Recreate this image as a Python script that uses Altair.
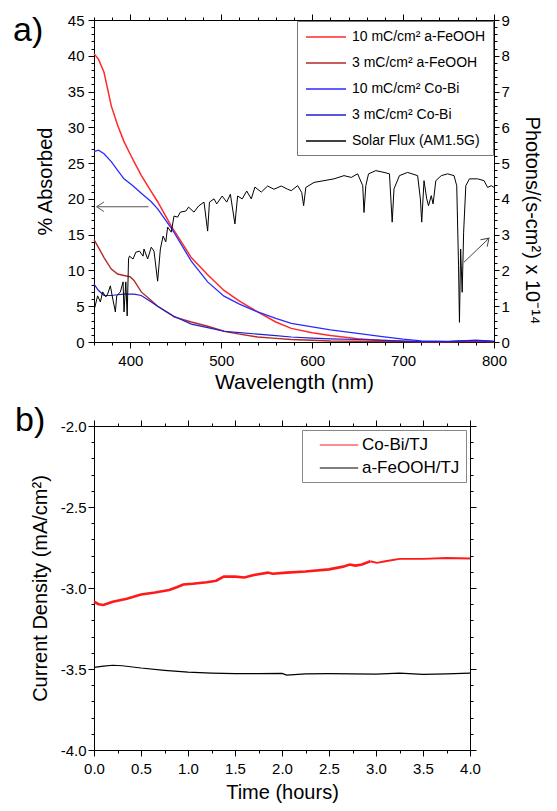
import altair as alt
import pandas as pd

# ---------------- panel a) data ----------------
wavelength = [360, 365, 371, 379, 386, 393, 400, 404, 412, 423, 430, 445, 448, 467, 485, 503, 520, 540,
              560, 577, 600, 620, 650, 675, 700, 720, 750, 780, 800]
feooh_10 = [40.3, 39.5, 37.7, 33.0, 30.3, 28.0, 26.2, 25.2, 23.3, 21.0, 19.6, 16.2, 15.6, 11.8, 9.4, 7.2, 5.7, 4.2,
            2.8, 1.9, 1.3, 0.9, 0.45, 0.2, 0.1, 0.05, 0.05, 0.1, 0.05]
feooh_3 = [14.3, 13.2, 11.8, 10.2, 9.5, 9.3, 9.1, 8.6, 7.0, 5.8, 5.0, 3.8, 3.5, 2.8, 2.2, 1.5, 1.1, 0.7,
           0.5, 0.35, 0.25, 0.15, 0.1, 0.08, 0.05, 0.05, 0.05, 0.15, 0.05]
cobi_10 = [26.6, 26.8, 26.3, 25.2, 24.0, 22.8, 22.1, 21.7, 20.8, 19.6, 18.6, 15.9, 15.3, 11.3, 8.4, 6.4, 5.3, 4.2,
           3.3, 2.6, 2.1, 1.7, 1.2, 0.8, 0.4, 0.15, 0.1, 0.2, 0.1]
cobi_3 = [8.1, 7.2, 6.5, 6.5, 6.6, 6.7, 6.7, 6.7, 6.5, 5.6, 5.0, 3.8, 3.6, 2.5, 2.0, 1.5, 1.3, 1.1,
          0.9, 0.7, 0.55, 0.45, 0.35, 0.25, 0.12, 0.05, 0.05, 0.25, 0.1]

solar_wl = [360.4, 364, 367, 369.5, 373, 375, 378, 380, 383.5, 385, 389, 392, 393, 395, 396.5, 398, 399,
            403, 406, 410, 414, 415, 419, 423, 426, 430, 433, 436, 439, 441, 445, 448, 452, 455, 461, 464,
            470, 475, 481, 485, 487, 492, 495, 501, 506, 510, 515, 518, 523, 528, 533, 537, 544, 551, 558,
            566, 573, 577, 584, 588.5, 590.6, 593, 602, 613, 624, 635, 643, 650, 655.6, 657, 659, 662, 670,
            679, 685, 688, 690, 696, 705, 716, 719, 720.5, 723, 726, 728, 731, 733, 736, 742, 749, 756, 759,
            761, 762, 763.3, 765, 766.6, 769, 773, 782, 789, 793, 797, 800]
solar_flux = [0.92, 1.29, 1.12, 1.40, 1.26, 1.34, 1.57, 1.29, 0.84, 1.29, 1.40, 1.68, 0.84, 1.68, 0.73, 2.32, 2.40,
              2.32, 2.51, 2.54, 2.40, 2.60, 2.32, 2.65, 2.54, 1.70, 2.60, 2.96, 2.80, 3.21, 3.07, 3.52, 3.49, 3.63,
              3.66, 3.77, 3.63, 3.80, 3.91, 3.10, 3.91, 4.00, 3.86, 4.08, 3.91, 4.13, 3.30, 4.08, 4.00, 4.22, 4.00,
              4.33, 4.19, 4.36, 4.27, 4.36, 4.27, 4.23, 4.37, 4.18, 3.81, 4.32, 4.46, 4.51, 4.56, 4.65, 4.60, 4.70,
              4.37, 3.62, 4.37, 4.70, 4.79, 4.74, 4.70, 3.35, 4.28, 4.65, 4.74, 4.65, 4.00, 3.35, 4.51, 4.00, 3.81,
              4.09, 3.86, 4.51, 4.65, 4.70, 4.65, 4.37, 2.13, 0.55, 2.60, 1.39, 3.07, 4.37, 4.56, 4.56, 4.51, 4.32,
              4.37, 4.32]

abs_series = ["10 mC/cm² a-FeOOH", "3 mC/cm² a-FeOOH", "10 mC/cm² Co-Bi", "3 mC/cm² Co-Bi"]
solar_series = "Solar Flux (AM1.5G)"
all_series = abs_series + [solar_series]
series_colors = ["#ff2a2a", "#b22a2a", "#2a2aff", "#1f1fd0", "#000000"]
series_widths = [1.5, 1.2, 1.5, 1.2]

# annotation arrows (data coordinates)
left_arrow_x = [420, 363]
left_arrow_y = [18.9, 18.9]
right_arrow_x = [767, 794.5]
right_arrow_y = [2.23, 2.9]

# ---------------- panel b) data ----------------
t_cobi = [0.0, 0.05, 0.1, 0.2, 0.35, 0.5, 0.65, 0.8, 0.88, 0.95, 1.05, 1.2, 1.3, 1.38, 1.5, 1.6, 1.7, 1.85, 1.9,
          2.05, 2.25, 2.5, 2.65, 2.72, 2.78, 2.85, 2.94, 3.01, 3.1, 3.25, 3.5, 3.75, 4.0]
j_cobi = [-3.085, -3.10, -3.105, -3.085, -3.066, -3.04, -3.028, -3.012, -2.995, -2.978, -2.974, -2.965, -2.955,
          -2.93, -2.93, -2.935, -2.92, -2.905, -2.912, -2.905, -2.898, -2.885, -2.868, -2.855, -2.862, -2.855,
          -2.835, -2.845, -2.835, -2.82, -2.82, -2.815, -2.818]
t_feooh = [0.0, 0.1, 0.2, 0.3, 0.5, 0.75, 1.0, 1.25, 1.5, 1.75, 2.0, 2.05, 2.25, 2.5, 2.75, 3.0, 3.25, 3.5, 3.75, 4.0]
j_feooh = [-3.49, -3.482, -3.477, -3.48, -3.494, -3.508, -3.519, -3.525, -3.528, -3.528, -3.527, -3.538, -3.53,
           -3.529, -3.53, -3.532, -3.525, -3.533, -3.53, -3.525]
b_series = ["Co-Bi/TJ", "a-FeOOH/TJ"]
b_colors = ["#ff1a1a", "#000000"]

# tick value lists
wl_ticks = list(range(360, 801, 20))
abs_ticks = list(range(0, 46))
flux_ticks = [round(0.2 * i, 1) for i in range(46)]
time_ticks = [0.25 * i for i in range(17)]
j_ticks = [round(-4 + 0.1 * i, 1) for i in range(21)]

FONT = "Liberation Sans"

# ---------------- build tables ----------------
rows = []
for name, vals in zip(abs_series, [feooh_10, feooh_3, cobi_10, cobi_3]):
    for w, v in zip(wavelength, vals):
        rows.append({"wl": w, "val": v, "series": name})
abs_df = pd.DataFrame(rows)
solar_df = pd.DataFrame({"wl": solar_wl, "flux": solar_flux, "series": solar_series})
larrow_df = pd.DataFrame({"x1": [left_arrow_x[0]], "x2": [left_arrow_x[1]], "y1": [left_arrow_y[0]], "y2": [left_arrow_y[1]]})
rarrow_df = pd.DataFrame({"x1": [right_arrow_x[0]], "x2": [right_arrow_x[1]], "y1": [right_arrow_y[0]], "y2": [right_arrow_y[1]]})

brows = []
for t, v in zip(t_cobi, j_cobi):
    if t <= 2.94:
        brows.append({"t": t, "j": v, "series": b_series[0], "seg": "cobi_noisy"})
    if t >= 2.94:
        brows.append({"t": t, "j": v, "series": b_series[0], "seg": "cobi_smooth"})
for t, v in zip(t_feooh, j_feooh):
    brows.append({"t": t, "j": v, "series": b_series[1], "seg": "feooh"})
b_df = pd.DataFrame(brows)


def tsize(test, major, minor):
    return {"condition": {"test": test, "value": major}, "value": minor}


# ---------------- panel a) ----------------
xs = alt.Scale(domain=[360, 800], nice=False, zero=False)
yl = alt.Scale(domain=[0, 45], nice=False, zero=False)
yr = alt.Scale(domain=[0, 9], nice=False, zero=False)

is100 = "datum.value % 100 === 0"
x_bottom = alt.Axis(values=wl_ticks, orient="bottom", title="Wavelength (nm)", grid=False,
                    labelExpr=f"{is100} ? format(datum.value, '.0f') : ''",
                    tickSize=tsize(is100, 6, 3), labelFlush=False, labelOverlap=False,
                    labelPadding=5, titlePadding=3, titleFontSize=21)
x_top = alt.Axis(values=wl_ticks, orient="top", title=None, labels=False, grid=False,
                 tickSize=tsize(is100, 6, 3))
is5 = "datum.value % 5 === 0"
y_left = alt.Axis(values=abs_ticks, orient="left", title="% Absorbed", grid=False,
                  labelExpr=f"{is5} ? format(datum.value, '.0f') : ''",
                  tickSize=tsize(is5, 6, 3), labelOverlap=False, labelFlush=False,
                  labelPadding=4, titlePadding=12)
isint = "abs(datum.value - round(datum.value)) < 0.001"
y_right = alt.Axis(values=flux_ticks, orient="right", title="Photons/(s-cm²) x 10⁻¹⁴", grid=False,
                   labelExpr=f"{isint} ? format(datum.value, '.0f') : ''",
                   tickSize=tsize(isint, 5, 3), labelOverlap=False, labelFlush=False,
                   labelPadding=2, titlePadding=12, titleFontSize=20, titleY=200)

legend_a = alt.Legend(title=None, orient="top-right", offset=1, strokeColor="#777777", fillColor="white",
                      padding=7, labelFontSize=14, labelFont=FONT, symbolType="M -2.5 0 L 2.5 0",
                      symbolSize=256, symbolStrokeWidth=1.5, symbolOffset=13, rowPadding=10,
                      labelOffset=17, labelLimit=400)
color_a = alt.Color("series:N", scale=alt.Scale(domain=all_series, range=series_colors), legend=legend_a)

abs_lines = alt.Chart(abs_df).mark_line().encode(
    x=alt.X("wl:Q", scale=xs, axis=x_bottom),
    y=alt.Y("val:Q", scale=yl, axis=y_left),
    color=color_a,
    strokeWidth=alt.StrokeWidth("series:N", scale=alt.Scale(domain=abs_series, range=series_widths), legend=None),
)
chevron = "M -0.9 -0.6 L 0 0 L -0.9 0.6"
larrow_shaft = alt.Chart(larrow_df).mark_rule(color="#555555", strokeWidth=1).encode(
    x=alt.X("x1:Q", scale=xs, axis=None), x2="x2:Q",
    y=alt.Y("y1:Q", scale=yl, axis=None), y2="y2:Q",
)
larrow_head = alt.Chart(larrow_df).mark_point(
    shape=chevron, filled=False, color="#555555", strokeWidth=1, size=256, angle=180, opacity=1,
).encode(x=alt.X("x2:Q", scale=xs, axis=None), y=alt.Y("y2:Q", scale=yl, axis=None))
label_a = alt.Chart(pd.DataFrame({"lab": ["a)"]})).mark_text(
    align="left", baseline="alphabetic", fontSize=34, font=FONT, color="black"
).encode(text="lab:N", x=alt.value(-81), y=alt.value(21))

solar_line = alt.Chart(solar_df).mark_line(strokeWidth=1).encode(
    x=alt.X("wl:Q", scale=xs, axis=x_top),
    y=alt.Y("flux:Q", scale=yr, axis=y_right),
    color=color_a,
)
rarrow_shaft = alt.Chart(rarrow_df).mark_rule(color="#444444", strokeWidth=1).encode(
    x=alt.X("x1:Q", scale=xs, axis=None), x2="x2:Q",
    y=alt.Y("y1:Q", scale=yr, axis=None), y2="y2:Q",
)
rarrow_head = alt.Chart(rarrow_df).mark_point(
    shape=chevron, filled=False, color="#444444", strokeWidth=1, size=256, angle=316, opacity=1,
).encode(x=alt.X("x2:Q", scale=xs, axis=None), y=alt.Y("y2:Q", scale=yr, axis=None))

top = alt.layer(
    abs_lines, larrow_shaft, larrow_head, label_a, solar_line, rarrow_shaft, rarrow_head
).resolve_scale(y="independent").resolve_axis(x="independent", y="independent").properties(
    width=400, height=322)

# ---------------- panel b) ----------------
ts = alt.Scale(domain=[0, 4], nice=False, zero=False)
js = alt.Scale(domain=[-4, -2], nice=False, zero=False)
ishalf = "abs(datum.value * 2 - round(datum.value * 2)) < 0.001"
t_bottom = alt.Axis(values=time_ticks, orient="bottom", title="Time (hours)", grid=False,
                    labelExpr=f"{ishalf} ? format(datum.value, '.1f') : ''",
                    tickSize=tsize(ishalf, 6, 3), labelFlush=False, labelOverlap=False,
                    labelPadding=5, titlePadding=6)
t_top = alt.Axis(values=time_ticks, orient="top", title=None, labels=False, grid=False,
                 tickSize=tsize(ishalf, 6, 3))
j_left = alt.Axis(values=j_ticks, orient="left", title="Current Density (mA/cm²)", grid=False,
                  labelExpr=f"{ishalf} ? replace(format(datum.value, '.1f'), '\u2212', '-') : ''",
                  tickSize=tsize(ishalf, 6, 3), labelFlush=False, labelOverlap=False,
                  labelPadding=2, titlePadding=10)
j_right = alt.Axis(values=j_ticks, orient="right", title=None, labels=False, grid=False,
                   tickSize=tsize(ishalf, 6, 3))

legend_b = alt.Legend(title=None, orient="top-right", offset=4, strokeColor="#888888", fillColor="white",
                      padding=6, labelFontSize=17, labelFont=FONT, symbolType="M -2.4 0 L 2.4 0",
                      symbolSize=256, symbolStrokeWidth=1.2, symbolOffset=22, rowPadding=6,
                      labelOffset=14, labelLimit=300)

b_lines = alt.Chart(b_df).mark_line().encode(
    x=alt.X("t:Q", scale=ts, axis=t_bottom),
    y=alt.Y("j:Q", scale=js, axis=j_left),
    color=alt.Color("series:N", scale=alt.Scale(domain=b_series, range=b_colors), legend=legend_b),
    detail="seg:N",
    strokeWidth=alt.StrokeWidth("seg:N", scale=alt.Scale(domain=["cobi_noisy", "cobi_smooth", "feooh"],
                                                         range=[2.6, 1.2, 2.2]), legend=None),
)
b_frame = alt.Chart(b_df).mark_line(strokeOpacity=0).encode(
    x=alt.X("t:Q", scale=ts, axis=t_top),
    y=alt.Y("j:Q", scale=js, axis=j_right),
    detail="seg:N",
)
label_b = alt.Chart(pd.DataFrame({"lab": ["b)"]})).mark_text(
    align="left", baseline="alphabetic", fontSize=34, font=FONT, color="black"
).encode(text="lab:N", x=alt.value(-79), y=alt.value(5))

bottom = alt.layer(b_lines, b_frame, label_b).resolve_axis(x="independent", y="independent").properties(
    width=376, height=324)

chart = alt.vconcat(top, bottom, spacing=12).resolve_scale(
    color="independent", strokeWidth="independent"
).configure(font=FONT, padding={"left": 5, "top": 5, "right": 3, "bottom": 2}).configure_view(
    stroke=None
).configure_axis(
    labelFont=FONT, titleFont=FONT, labelFontSize=15, titleFontSize=20, labelColor="black",
    titleColor="black", titleFontWeight="normal", domainColor="black", tickColor="black",
    domainWidth=1, tickWidth=1,
)

chart.save("out.html", embed_options={"renderer": "svg", "actions": False})
